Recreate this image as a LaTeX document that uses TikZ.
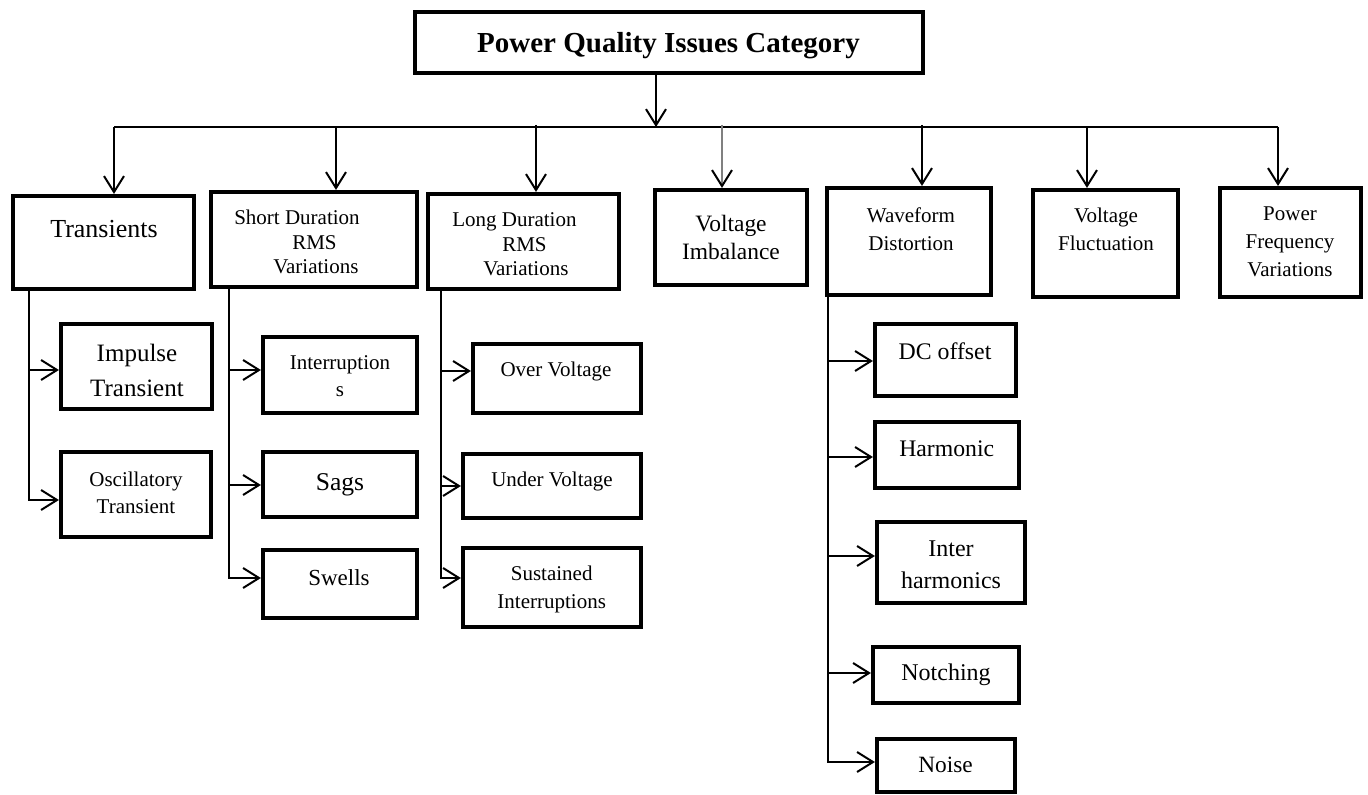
\documentclass[tikz,border=0pt]{standalone}
\usepackage{fontspec}
\setmainfont{Liberation Serif}
\usetikzlibrary{arrows.meta,fit}
\newcommand{\mlc}[1]{\begin{tabular}[t]{@{}c@{}}#1\end{tabular}}
\newcommand{\mll}[1]{\begin{tabular}[t]{@{}l@{}}#1\end{tabular}}
\newcommand{\fs}[2]{\fontsize{#1pt}{#2pt}\selectfont}
\begin{document}
\begin{tikzpicture}[x=0.75pt,y=-0.75pt,
  box/.style={draw=black,line width=3.1pt,inner sep=0pt},
  ln/.style={line width=1.5pt},
  arr/.style={line width=1.5pt,-{Straight Barb[length=12pt,width=15pt]}},
  grarr/.style={line width=1.5pt,draw=gray,-{Straight Barb[length=12pt,width=15pt,color=black]}},
  txt/.style={inner sep=0pt,anchor=base,text=black},
  txtl/.style={inner sep=0pt,anchor=base west,text=black},
]
\useasboundingbox (0,0) rectangle (1368,795);

% ---- boxes ----
\node[box, fit={(415,12) (923,73)}] (title) {};
\node[box, fit={(13,196) (194,289)}] (tr) {};
\node[box, fit={(211,192) (417,287)}] (sd) {};
\node[box, fit={(428,194) (619,289)}] (ld) {};
\node[box, fit={(655,190) (807,285)}] (vi) {};
\node[box, fit={(827,188) (991,295)}] (wf) {};
\node[box, fit={(1033,190) (1178,297)}] (vf) {};
\node[box, fit={(1220,188) (1361,297)}] (pf) {};
\node[box, fit={(61,324) (212,409)}] (imp) {};
\node[box, fit={(61,452) (211,537)}] (osc) {};
\node[box, fit={(263,337) (417,413)}] (intr) {};
\node[box, fit={(263,452) (417,517)}] (sags) {};
\node[box, fit={(263,550) (417,618)}] (swl) {};
\node[box, fit={(473,344) (641,413)}] (ov) {};
\node[box, fit={(463,454) (641,518)}] (uv) {};
\node[box, fit={(463,548) (641,627)}] (si) {};
\node[box, fit={(875,324) (1016,396)}] (dc) {};
\node[box, fit={(875,422) (1019,488)}] (har) {};
\node[box, fit={(877,522) (1025,603)}] (ih) {};
\node[box, fit={(873,647) (1019,703)}] (nt) {};
\node[box, fit={(877,739) (1015,792)}] (ns) {};

% ---- texts ----
\node[txt, font={\fs{21.75}{26}\bfseries}] (titlet) at (668.5,53) {Power Quality Issues Category};
\node[txt, font={\fs{19.5}{23}}] (trt) at (104,237.3) {Transients};
\node[txtl, font={\fs{15.75}{18}}] (sdt) at (234,225) {\mll{Short Duration\\\hspace*{43.5pt}RMS\\\hspace*{29.25pt}Variations}};
\node[txtl, font={\fs{15.75}{18.2}}] (ldt) at (452,227) {\mll{Long Duration\\\hspace*{37.5pt}RMS\\\hspace*{23.25pt}Variations}};
\node[txt, font={\fs{17.6}{20.8}}] (vit) at (731,231.7) {\mlc{Voltage\\Imbalance}};
\node[txt, font={\fs{15.75}{21}}] (wft) at (911,223) {\mlc{Waveform\\Distortion}};
\node[txt, font={\fs{15.75}{21}}] (vft) at (1106,222.7) {\mlc{Voltage\\Fluctuation}};
\node[txt, font={\fs{15.75}{21}}] (pft) at (1290,220.7) {\mlc{Power\\Frequency\\Variations}};
\node[txt, font={\fs{18.75}{26.25}}] (impt) at (137,361.7) {\mlc{Impulse\\Transient}};
\node[txt, font={\fs{15.75}{20.25}}] (osct) at (136,486) {\mlc{Oscillatory\\Transient}};
\node[txt, font={\fs{15.75}{20.5}}] (intrt) at (340,369.3) {\mlc{Interruption\\s}};
\node[txt, font={\fs{19.2}{23}}] (sagst) at (340,490) {Sags};
\node[txt, font={\fs{17.25}{21}}] (swlt) at (339,585) {Swells};
\node[txt, font={\fs{15.75}{19}}] (ovt) at (556,376.7) {Over Voltage};
\node[txt, font={\fs{15.75}{19}}] (uvt) at (552,486.7) {Under Voltage};
\node[txt, font={\fs{15.75}{20.8}}] (sit) at (551.7,580.7) {\mlc{Sustained\\Interruptions}};
\node[txt, font={\fs{17.85}{21}}] (dct) at (945,359.3) {DC offset};
\node[txt, font={\fs{17.8}{21}}] (hart) at (946.7,456.7) {Harmonic};
\node[txt, font={\fs{18}{24}}] (iht) at (951,556.7) {\mlc{Inter\\harmonics}};
\node[txt, font={\fs{18}{21}}] (ntt) at (946,680.7) {Notching};
\node[txt, font={\fs{17.5}{21}}] (nst) at (945.5,772.7) {Noise};

% ---- bus and top arrows ----
\coordinate (bt) at (656,127);
\coordinate (b1) at (114,127);
\coordinate (b2) at (336,127);
\coordinate (b3) at (536,125);
\coordinate (b4) at (722,125);
\coordinate (b5) at (922,125);
\coordinate (b6) at (1087,127);
\coordinate (b7) at (1278,127);
\draw[ln] (b1) -- (b7);
\draw[arr] (title.south -| bt) -- (bt);
\draw[arr] (b1) -- (b1 |- tr.north);
\draw[arr] (b2) -- (b2 |- sd.north);
\draw[arr] (b3) -- (b3 |- ld.north);
\draw[grarr] (b4) -- (b4 |- vi.north);
\draw[arr] (b5) -- (b5 |- wf.north);
\draw[arr] (b6) -- (b6 |- vf.north);
\draw[arr] (b7) -- (b7 |- pf.north);

% ---- Transients branch ----
\coordinate (t1) at (29,370);
\coordinate (t2) at (29,500);
\draw[arr] (tr.south -| t2) -- (t2) -- (osc.west |- t2);
\draw[arr] (t1) -- (imp.west |- t1);

% ---- Short duration branch ----
\coordinate (s1) at (229,370);
\coordinate (s2) at (229,485);
\coordinate (s3) at (229,578);
\draw[arr] (sd.south -| s3) -- (s3) -- (swl.west |- s3);
\draw[arr] (s1) -- (intr.west |- s1);
\draw[arr] (s2) -- (sags.west |- s2);

% ---- Long duration branch ----
\coordinate (l1) at (441,371);
\coordinate (l2) at (441,486);
\coordinate (l3) at (441,578);
\draw[arr] (ld.south -| l3) -- (l3) -- (si.west |- l3);
\draw[arr] (l1) -- (ov.west |- l1);
\draw[arr] (l2) -- (uv.west |- l2);

% ---- Waveform branch ----
\coordinate (w1) at (828,361);
\coordinate (w2) at (828,457);
\coordinate (w3) at (828,556);
\coordinate (w4) at (828,673);
\coordinate (w5) at (828,762);
\draw[arr] (wf.south -| w5) -- (w5) -- (ns.west |- w5);
\draw[arr] (w1) -- (dc.west |- w1);
\draw[arr] (w2) -- (har.west |- w2);
\draw[arr] (w3) -- (ih.west |- w3);
\draw[arr] (w4) -- (nt.west |- w4);
\end{tikzpicture}
\end{document}
